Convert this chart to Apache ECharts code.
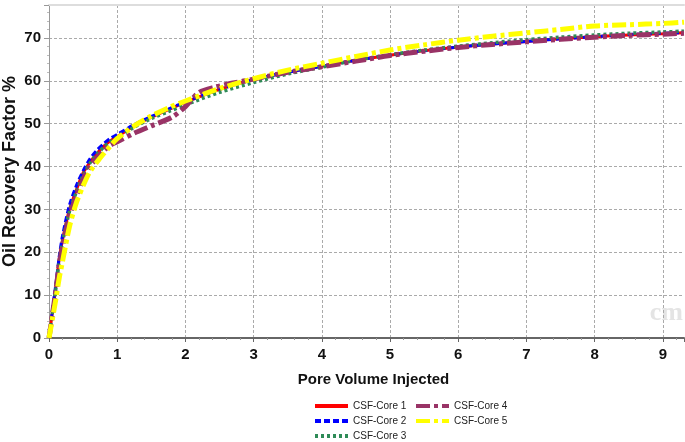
<!DOCTYPE html>
<html>
<head>
<meta charset="utf-8">
<script src="https://cdn.jsdelivr.net/npm/echarts@6/dist/echarts.min.js"></script>
<style>
  html, body { margin: 0; padding: 0; background: #fff; }
  #chart { width: 685px; height: 442px; }
</style>
</head>
<body>
<div id="chart"></div>
<script>
// pore volume injected (x) and recovery factor % (y) for each core
var core1X = [0, 0.05, 0.1, 0.15, 0.2, 0.3, 0.4, 0.5, 0.6, 0.7, 0.8, 0.9, 1.0, 1.25, 1.5, 1.75, 2.0, 2.5, 3.0, 3.5, 4.0, 4.5, 5.0, 5.5, 6.0, 6.5, 7.0, 7.5, 8.0, 8.5, 9.0, 9.31]
var core1Y = [0, 6, 12, 18.5, 23, 30, 34.5, 38.5, 41, 43, 44.7, 46, 47, 49.5, 51.5, 53.3, 55, 58, 60.3, 62, 63.4, 64.8, 66, 67, 67.9, 68.6, 69.2, 69.8, 70.3, 70.7, 71, 71.2]

var core2X = [0, 0.05, 0.1, 0.15, 0.2, 0.3, 0.4, 0.5, 0.6, 0.7, 0.8, 0.9, 1.0, 1.25, 1.5, 1.75, 2.0, 2.5, 3.0, 3.5, 4.0, 4.5, 5.0, 5.5, 6.0, 6.5, 7.0, 7.5, 8.0, 8.5, 9.0, 9.31]
var core2Y = [0, 6.5, 12.5, 19, 24, 31, 35.5, 39, 41.8, 43.8, 45.3, 46.6, 47.5, 49.8, 51.7, 53.4, 55.1, 58, 60.3, 62, 63.4, 64.8, 66, 67, 67.9, 68.6, 69.2, 69.8, 70.3, 70.8, 71.1, 71.3]

var core3X = [0, 0.05, 0.1, 0.15, 0.2, 0.3, 0.4, 0.5, 0.6, 0.7, 0.8, 0.9, 1.0, 1.25, 1.5, 1.75, 2.0, 2.5, 3.0, 3.5, 4.0, 4.5, 5.0, 5.5, 6.0, 6.5, 7.0, 7.5, 8.0, 8.5, 9.0, 9.31]
var core3Y = [0, 6, 11.5, 18, 22.5, 29.5, 34, 38, 40.8, 42.8, 44.5, 45.8, 46.8, 49.2, 51.2, 52.8, 54.4, 57.3, 59.6, 61.6, 63.2, 64.8, 66.1, 67.2, 68.1, 68.9, 69.6, 70.2, 70.7, 71.1, 71.4, 71.6]

var core4X = [0, 0.05, 0.1, 0.15, 0.2, 0.3, 0.4, 0.5, 0.6, 0.7, 0.8, 0.9, 1.0, 1.25, 1.5, 1.8, 2.0, 2.2, 2.45, 2.7, 3.0, 3.5, 4.0, 4.5, 5.0, 5.5, 6.0, 6.5, 7.0, 7.5, 8.0, 8.5, 9.0, 9.31]
var core4Y = [0, 5.5, 11, 17, 21.5, 28.5, 33, 37, 40, 42, 43.7, 45, 45.8, 47.8, 49.5, 51.5, 54, 57.3, 58.6, 59.5, 60.4, 62, 63.3, 64.6, 65.9, 66.9, 67.8, 68.5, 69.1, 69.7, 70.2, 70.6, 70.9, 71.1]

var core5X = [0, 0.05, 0.1, 0.15, 0.2, 0.3, 0.4, 0.5, 0.6, 0.75, 0.9, 1.0, 1.25, 1.5, 1.75, 2.0, 2.5, 3.0, 3.5, 4.0, 4.5, 5.0, 5.5, 6.0, 6.5, 7.0, 7.5, 8.0, 8.5, 9.0, 9.31]
var core5Y = [0, 4.5, 9, 14, 18, 26, 31.5, 35.5, 38.8, 42, 44.8, 46.5, 49.5, 51.8, 53.7, 55.3, 58.2, 60.5, 62.5, 64.1, 65.7, 67.2, 68.4, 69.5, 70.4, 71.2, 72, 72.8, 73.1, 73.4, 73.7]

var seriesNames = ['CSF-Core 1', 'CSF-Core 2', 'CSF-Core 3', 'CSF-Core 4', 'CSF-Core 5']
var xTicks = [0, 1, 2, 3, 4, 5, 6, 7, 8, 9]
var yTicks = [0, 10, 20, 30, 40, 50, 60, 70]

function zip(xs, ys) {
  return xs.map(function (x, i) { return [x, ys[i]] })
}

var narrow = 'Liberation Sans Narrow, Arial Narrow, Liberation Sans, sans-serif'

var chart = echarts.init(document.getElementById('chart'))

function line(name, data, color, width, dash) {
  return {
    name: name,
    type: 'line',
    data: data,
    symbol: 'none',
    smooth: 0.3,
    lineStyle: { color: color, width: width, type: dash },
    itemStyle: { color: color },
    animation: false
  }
}

function legendBox(names, left) {
  return {
    data: names,
    orient: 'vertical',
    left: left,
    top: 401,
    padding: 0,
    height: 41,
    itemWidth: 33,
    itemHeight: 8,
    itemGap: 5,
    itemStyle: { opacity: 0 },
    lineStyle: { width: 4 },
    textStyle: { fontFamily: narrow, fontSize: 10, lineHeight: 10, color: '#222' }
  }
}

chart.setOption({
  backgroundColor: '#fff',
  grid: { left: 49, right: 1, top: 5, bottom: 104, containLabel: false, outerBoundsMode: 'none' },
  legend: [legendBox(seriesNames.slice(0, 3), 313), legendBox(seriesNames.slice(3), 414)],
  graphic: [{
    type: 'text',
    right: 2,
    top: 300,
    style: { text: 'cm', fill: '#e4e4e4', font: 'bold 26px Liberation Serif, serif' }
  }],
  xAxis: [
    {
      type: 'value',
      min: 0,
      max: 9.31,
      interval: 1,
      name: 'Pore Volume Injected',
      nameLocation: 'middle',
      nameGap: 34,
      nameMoveOverlap: false,
      nameTextStyle: { fontFamily: narrow, fontWeight: 'bold', fontSize: 15, color: '#111', padding: [0, 0, 0, 14] },
      axisLine: { lineStyle: { color: '#666', width: 2 } },
      axisTick: { show: true, length: 4, lineStyle: { color: '#666' } },
      minorTick: { show: true, splitNumber: 5, length: 2, lineStyle: { color: '#999' } },
      axisLabel: {
        fontFamily: narrow, fontWeight: 'bold', fontSize: 15, color: '#111', margin: 9,
        showMaxLabel: false,
        formatter: function (v) { return xTicks.indexOf(v) >= 0 ? String(v) : '' }
      },
      splitLine: { show: true, showMaxLine: false, lineStyle: { color: '#aaa', type: [3, 2], width: 1 } }
    },
    {
      type: 'value',
      position: 'top',
      min: 0,
      max: 9.31,
      axisLine: { show: true, lineStyle: { color: '#ddd', width: 2 } },
      axisTick: { show: false },
      axisLabel: { show: false },
      splitLine: { show: false }
    }
  ],
  yAxis: {
    type: 'value',
    min: 0,
    max: 77.7,
    interval: 10,
    name: 'Oil Recovery Factor %',
    nameLocation: 'middle',
    nameGap: 30,
    nameMoveOverlap: false,
    nameTextStyle: { fontFamily: 'Liberation Sans, Arial, sans-serif', fontWeight: 'bold', fontSize: 18, color: '#111' },
    axisLine: { show: true, lineStyle: { color: '#999', width: 1 } },
    axisTick: { show: true, length: 5, lineStyle: { color: '#999' } },
    minorTick: { show: true, splitNumber: 5, length: 2, lineStyle: { color: '#bbb' } },
    axisLabel: {
      fontFamily: narrow, fontWeight: 'bold', fontSize: 15, color: '#111', margin: 8,
      showMaxLabel: false,
      formatter: function (v) { return yTicks.indexOf(v) >= 0 ? String(v) : '' }
    },
    splitLine: { show: true, lineStyle: { color: '#aaa', type: [3, 2], width: 1 } }
  },
  series: [
    line(seriesNames[0], zip(core1X, core1Y), '#ff0000', 3, 'solid'),
    line(seriesNames[1], zip(core2X, core2Y), '#0000ff', 3, [6, 3]),
    line(seriesNames[2], zip(core3X, core3Y), '#2e8b57', 3.5, [3, 3]),
    line(seriesNames[3], zip(core4X, core4Y), '#993366', 5, [14, 4, 4, 4]),
    line(seriesNames[4], zip(core5X, core5Y), '#ffff00', 5, [14, 4, 4, 4])
  ]
})
</script>
</body>
</html>
